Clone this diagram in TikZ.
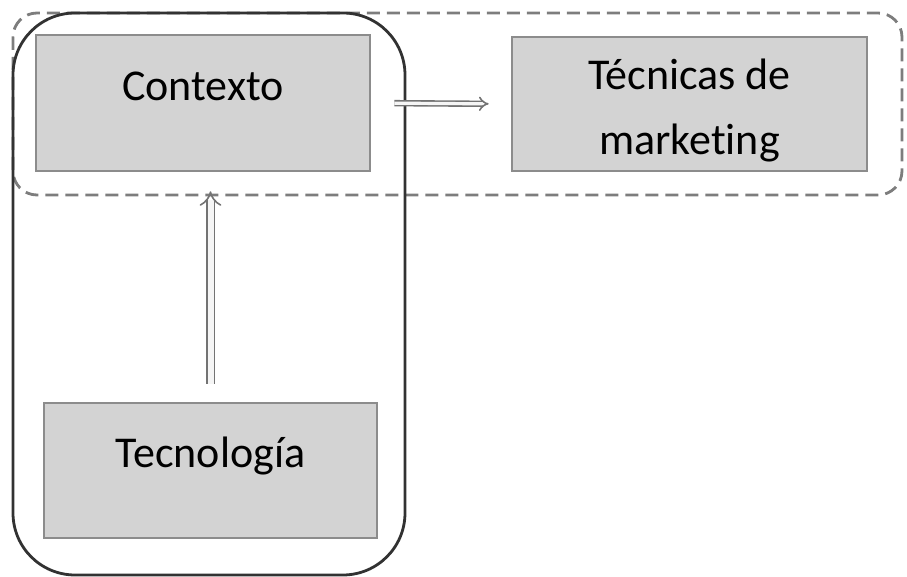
\documentclass[tikz,border=0pt]{standalone}
\usepackage{fontspec}
\setmainfont[Ligatures=NoCommon]{Carlito}
\usetikzlibrary{
  arrows.meta, % For arrow tips
  shadows % For the soft box shadows
}

\definecolor{boxfill}{RGB}{211,211,211}
\definecolor{boxedge}{RGB}{140,140,140}
\definecolor{dashgray}{RGB}{125,125,125}
\definecolor{framegray}{RGB}{50,50,50}
\definecolor{arrowgray}{RGB}{115,115,115}

\begin{document}
\begin{tikzpicture}[
      x=0.5pt, y=-0.5pt, % pixel grid of the reference
      font=\fontsize{22pt}{32.5pt}\selectfont,
      box/.style={draw=boxedge, line width=1.3pt, fill=boxfill,
        drop shadow={opacity=0.25, shadow xshift=0pt, shadow yshift=-3pt},
        preaction={draw=white, line width=7pt},
        inner sep=0pt, align=center}, % Style for the grey boxes
      link/.style={draw=arrowgray, line width=0.8pt, double=white!92!gray,
        -{Implies}}, % Style for the hollow arrows
    ]

    % Rahmen
    \useasboundingbox (0,0) rectangle (907,577);
    \coordinate (S1) at (13,13);
    \coordinate (S2) at (405,575);
    \coordinate (D1) at (13,13);
    \coordinate (D2) at (902,195);

    \draw[dashgray, line width=1.4pt, dash pattern=on 6.5pt off 3.5pt,
      rounded corners=12pt] (D1) rectangle (D2);

    % Kästen
    \node[box, minimum width=167pt, minimum height=68pt,
      text height=8pt, text depth=10pt] (ctx) at (203,103) {Contexto};
    \node[box, minimum width=177.5pt, minimum height=67pt,
      text height=55pt, text depth=4pt] (tec) at (689.5,104)
      {Técnicas de\\marketing};
    \node[box, minimum width=166.5pt, minimum height=67.5pt,
      text height=8pt, text depth=10.5pt] (tecno) at (210.5,470.5) {Tecnología};

    \draw[framegray, line width=1.4pt, rounded corners=31pt] (S1) rectangle (S2);

    % Pfeile
    \draw[link, double distance=1.6pt, shorten <=11.5pt, shorten >=11pt]
      (ctx.east) -- (tec.west);
    \draw[link, double distance=3pt, shorten <=9pt, shorten >=9.5pt]
      (tecno.north) -- (tecno.north |- ctx.south);
  \end{tikzpicture}
\end{document}
